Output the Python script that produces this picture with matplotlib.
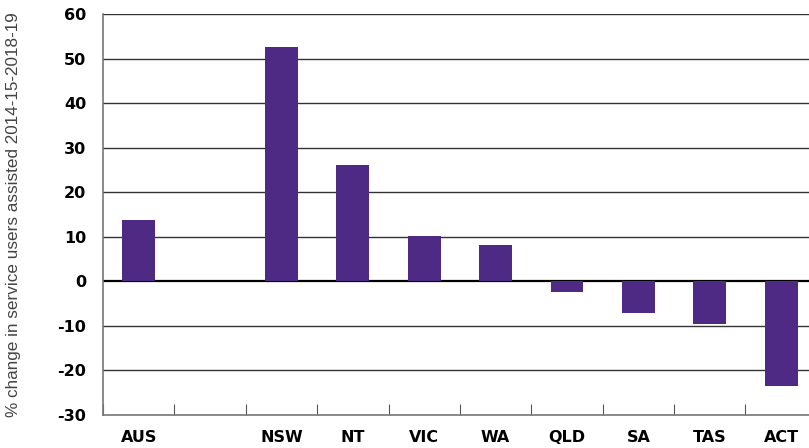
import matplotlib.pyplot as plt
from matplotlib.ticker import FixedLocator, NullFormatter, FixedFormatter

plt.rcParams["axes.unicode_minus"] = False

states = ["AUS", "", "NSW", "NT", "VIC", "WA", "QLD", "SA", "TAS", "ACT"]
change = [13.7, None, 52.6, 26.2, 10.1, 8.1, -2.3, -7.0, -9.5, -23.4]

fig = plt.figure(figsize=(8.09, 4.48), dpi=100)
ax = fig.add_axes([0.1273, 0.0737, 0.8727, 0.8951])

xs = [i for i, v in enumerate(change) if v is not None]
vals = [v for v in change if v is not None]
ax.bar(xs, vals, width=0.46, color="#4e2a84", zorder=3)

ax.set_ylim(-30, 60)
ax.set_xlim(-0.5, 9.39)
ax.set_yticks(range(-30, 61, 10))
ax.tick_params(axis="y", length=0, pad=12, labelsize=11.5)
for lbl in ax.get_yticklabels():
    lbl.set_fontweight("bold")

for y in range(-20, 61, 10):
    ax.axhline(y, color="black" if y == 0 else "#333333",
               lw=1.6 if y == 0 else 1.0, zorder=2)

ax.xaxis.set_major_locator(FixedLocator([i - 0.5 for i in range(11)]))
ax.xaxis.set_major_formatter(NullFormatter())
ax.xaxis.set_minor_locator(FixedLocator(range(10)))
ax.xaxis.set_minor_formatter(FixedFormatter(states))
ax.tick_params(axis="x", which="major", direction="in", length=8, color="#555555")
ax.tick_params(axis="x", which="minor", length=0, pad=11, labelsize=11.5)
for lbl in ax.get_xticklabels(minor=True):
    lbl.set_fontweight("bold")

for side in ["top", "right"]:
    ax.spines[side].set_visible(False)
ax.spines["left"].set_color("#777777")
ax.spines["bottom"].set_color("#777777")
ax.spines["left"].set_linewidth(1.2)
ax.spines["bottom"].set_linewidth(1.2)

ax.set_ylabel("% change in service users assisted 2014-15-2018-19",
              fontsize=12.3, color="#444444", labelpad=26, family="Liberation Sans")

fig.savefig("out.png", dpi=100)
